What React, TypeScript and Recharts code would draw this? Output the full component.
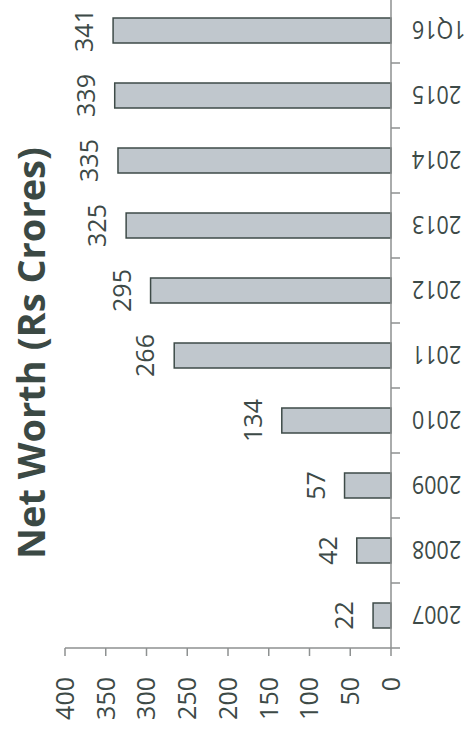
import { Bar, BarChart, XAxis, YAxis, LabelList } from "recharts"

const categories = ["2007", "2008", "2009", "2010", "2011", "2012", "2013", "2014", "2015", "1Q16"]
const netWorth = [22, 42, 57, 134, 266, 295, 325, 335, 339, 341]
const valueTicks = [0, 50, 100, 150, 200, 250, 300, 350, 400]

const data = categories.map((name, i) => ({ name, value: netWorth[i] }))

const textColor = "#3d4a47"
const axisColor = "#8e9191"

// chart is laid out upright, then the whole thing is turned 90deg to the left
const W = 738
const H = 475

function CategoryTick(props: any) {
  const { x, y, payload, index, visibleTicksCount } = props
  const half = payload && payload.offset ? payload.offset : 32.5
  const ty = y + 21
  return (
    <g>
      <line x1={x - half} x2={x - half} y1={y} y2={y + 9} stroke={axisColor} strokeWidth={1.5} />
      {index === visibleTicksCount - 1 && (
        <line x1={x + half} x2={x + half} y1={y} y2={y + 9} stroke={axisColor} strokeWidth={1.5} />
      )}
      {/* labels in the source are a little narrower than the other text */}
      <text
        x={0}
        y={0}
        transform={`translate(${x}, ${ty}) rotate(-90) scale(0.86, 1)`}
        textAnchor="end"
        dy="0.36em"
        fontSize={25}
        fill={textColor}
      >
        {payload.value}
      </text>
    </g>
  )
}

export default function App() {
  return (
    <div style={{ position: "absolute", left: 0, top: 0, width: 475, height: 736, overflow: "hidden", background: "#fff" }}>
      <div
        style={{
          position: "absolute",
          left: 0,
          top: 0,
          width: W,
          height: H,
          transformOrigin: "0 0",
          transform: "translate(0px, 736px) rotate(-90deg)",
          fontFamily: "'Open Sans', sans-serif",
        }}
      >
        <BarChart width={W} height={H} data={data} margin={{ top: 65, right: 0, bottom: 24, left: 0 }}>
          <XAxis
            dataKey="name"
            height={60}
            tickSize={0}
            tickMargin={0}
            tickLine={false}
            axisLine={{ stroke: axisColor, strokeWidth: 1.5 }}
            tick={<CategoryTick />}
            interval={0}
          />
          <YAxis
            width={88}
            domain={[0, 400]}
            ticks={valueTicks}
            tickSize={8}
            tickMargin={21}
            axisLine={{ stroke: axisColor, strokeWidth: 1.5 }}
            tickLine={{ stroke: axisColor, strokeWidth: 1.5 }}
            tick={{ fontSize: 25, fill: textColor }}
          />
          <Bar dataKey="value" barSize={25} fill="#c0c7cd" stroke="#3e4b48" strokeWidth={1.5} isAnimationActive={false}>
            <LabelList dataKey="value" position="top" offset={20} fontSize={25} fill={textColor} />
          </Bar>
        </BarChart>
        <svg width={W} height={H} style={{ position: "absolute", left: 0, top: 0, pointerEvents: "none" }}>
          <text x={383} y={45} textAnchor="middle" fontSize={38} fontWeight={700} fill="#3b4944">
            Net Worth (Rs Crores)
          </text>
        </svg>
      </div>
    </div>
  )
}
